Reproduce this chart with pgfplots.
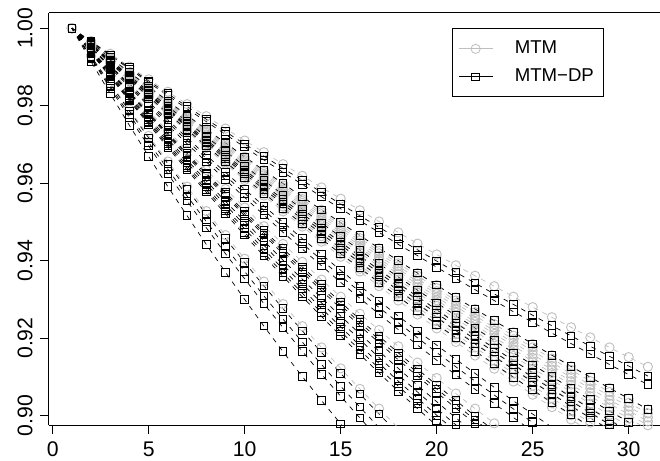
\documentclass[border=0pt]{standalone}
\usepackage{fontspec}
\setmainfont{Liberation Sans}
\usepackage{pgfplots}
\pgfplotsset{compat=1.18}
\definecolor{mtmgray}{HTML}{BEBEBE}
\pgfplotsset{
  mtm/.style={mtmgray, line width=0.35pt, dash pattern=on 2.4pt off 2.6pt,
    mark=o, mark size=2.3pt, mark options={solid, line width=0.45pt}},
  dp/.style={black, line width=0.35pt, dash pattern=on 2.4pt off 2.6pt,
    mark=square, mark size=1.9pt, mark options={solid, line width=0.45pt}},
}
\begin{document}
\fontsize{10.6}{12.7}\selectfont
\begin{tikzpicture}
\begin{axis}[
  width=305.5pt, height=206.3pt, scale only axis,
  xmin=-0.19, xmax=31.63, ymin=0.8975, ymax=1.004,
  axis x line*=box, axis y line*=left,
  xtick={0,5,...,30}, ytick={0.90,0.92,0.94,0.96,0.98,1.00},
  xtick pos=bottom, ytick pos=left,
  tick align=outside, major tick length=4.5pt,
  tick style={black, line width=0.5pt},
  axis line style={line width=0.5pt},
  scaled y ticks=false,
  /pgf/number format/assume math mode=true,
  yticklabel style={rotate=90, anchor=south,
    /pgf/number format/fixed, /pgf/number format/fixed zerofill,
    /pgf/number format/precision=2},
  legend style={at={(0.660,0.962)}, anchor=north west, draw=black,
    line width=0.5pt, font=\fontsize{9.3}{11}\selectfont,
    inner xsep=2.7pt, inner ysep=4pt, row sep=2pt, fill=white,
    /tikz/every odd column/.append style={column sep=8.85pt}},
  legend cell align=left,
]
\addlegendimage{mtmgray, line width=0.4pt, mark=o, mark size=2.3pt}
\addlegendentry{MTM}
\addlegendimage{black, line width=0.4pt, mark=square, mark size=1.9pt}
\addlegendentry{MTM−DP\hspace{2.8pt}}

% MTM
\addplot[mtm] coordinates {(1,1.0000) (2,0.9967) (3,0.9934) (4,0.9901) (5,0.9868) (6,0.9836) (7,0.9804) (8,0.9773) (9,0.9741) (10,0.9710) (11,0.9680) (12,0.9649) (13,0.9619) (14,0.9589) (15,0.9560) (16,0.9530) (17,0.9501) (18,0.9473) (19,0.9444) (20,0.9416) (21,0.9388) (22,0.9361) (23,0.9334) (24,0.9307) (25,0.9280) (26,0.9254) (27,0.9228) (28,0.9202) (29,0.9176) (30,0.9151) (31,0.9126)};
\addplot[mtm] coordinates {(1,1.0000) (2,0.9962) (3,0.9924) (4,0.9886) (5,0.9849) (6,0.9812) (7,0.9775) (8,0.9739) (9,0.9704) (10,0.9668) (11,0.9633) (12,0.9599) (13,0.9565) (14,0.9531) (15,0.9498) (16,0.9465) (17,0.9432) (18,0.9400) (19,0.9368) (20,0.9337) (21,0.9305) (22,0.9275) (23,0.9245) (24,0.9215) (25,0.9185) (26,0.9156) (27,0.9127) (28,0.9099) (29,0.9071) (30,0.9044) (31,0.9016)};
\addplot[mtm] coordinates {(1,1.0000) (2,0.9961) (3,0.9923) (4,0.9884) (5,0.9847) (6,0.9809) (7,0.9773) (8,0.9736) (9,0.9700) (10,0.9664) (11,0.9629) (12,0.9594) (13,0.9559) (14,0.9525) (15,0.9492) (16,0.9458) (17,0.9425) (18,0.9393) (19,0.9361) (20,0.9329) (21,0.9297) (22,0.9267) (23,0.9236) (24,0.9206) (25,0.9176) (26,0.9147) (27,0.9118) (28,0.9089) (29,0.9061) (30,0.9033) (31,0.9006)};
\addplot[mtm] coordinates {(1,1.0000) (2,0.9961) (3,0.9922) (4,0.9883) (5,0.9845) (6,0.9807) (7,0.9770) (8,0.9733) (9,0.9696) (10,0.9660) (11,0.9624) (12,0.9589) (13,0.9554) (14,0.9520) (15,0.9486) (16,0.9452) (17,0.9419) (18,0.9386) (19,0.9353) (20,0.9321) (21,0.9290) (22,0.9258) (23,0.9227) (24,0.9197) (25,0.9167) (26,0.9137) (27,0.9108) (28,0.9079) (29,0.9051) (30,0.9023) (31,0.8995)};
\addplot[mtm] coordinates {(1,1.0000) (2,0.9960) (3,0.9921) (4,0.9882) (5,0.9843) (6,0.9805) (7,0.9767) (8,0.9730) (9,0.9693) (10,0.9656) (11,0.9620) (12,0.9584) (13,0.9549) (14,0.9514) (15,0.9480) (16,0.9446) (17,0.9412) (18,0.9379) (19,0.9346) (20,0.9314) (21,0.9282) (22,0.9250) (23,0.9219) (24,0.9188) (25,0.9158) (26,0.9128) (27,0.9099) (28,0.9070) (29,0.9041) (30,0.9013) (31,0.8985)};
\addplot[mtm] coordinates {(1,1.0000) (2,0.9960) (3,0.9920) (4,0.9880) (5,0.9841) (6,0.9802) (7,0.9764) (8,0.9726) (9,0.9689) (10,0.9652) (11,0.9615) (12,0.9579) (13,0.9544) (14,0.9508) (15,0.9474) (16,0.9439) (17,0.9405) (18,0.9372) (19,0.9339) (20,0.9306) (21,0.9274) (22,0.9242) (23,0.9211) (24,0.9180) (25,0.9149) (26,0.9119) (27,0.9089) (28,0.9060) (29,0.9031) (30,0.9003) (31,0.8975)};
\addplot[mtm] coordinates {(1,1.0000) (2,0.9959) (3,0.9919) (4,0.9879) (5,0.9839) (6,0.9800) (7,0.9761) (8,0.9723) (9,0.9685) (10,0.9648) (11,0.9611) (12,0.9574) (13,0.9538) (14,0.9503) (15,0.9468) (16,0.9433) (17,0.9399) (18,0.9365) (19,0.9331) (20,0.9298) (21,0.9266) (22,0.9234) (23,0.9202) (24,0.9171) (25,0.9140) (26,0.9110) (27,0.9080) (28,0.9050) (29,0.9021) (30,0.8993) (31,0.8965)};
\addplot[mtm] coordinates {(1,1.0000) (2,0.9959) (3,0.9918) (4,0.9877) (5,0.9837) (6,0.9798) (7,0.9759) (8,0.9720) (9,0.9682) (10,0.9644) (11,0.9607) (12,0.9570) (13,0.9533) (14,0.9497) (15,0.9462) (16,0.9427) (17,0.9392) (18,0.9358) (19,0.9324) (20,0.9291) (21,0.9258) (22,0.9226) (23,0.9194) (24,0.9162) (25,0.9131) (26,0.9101) (27,0.9070) (28,0.9041) (29,0.9012) (30,0.8983) (31,0.8954)};
\addplot[mtm] coordinates {(1,1.0000) (2,0.9958) (3,0.9917) (4,0.9876) (5,0.9835) (6,0.9795) (7,0.9756) (8,0.9717) (9,0.9678) (10,0.9640) (11,0.9602) (12,0.9565) (13,0.9528) (14,0.9492) (15,0.9456) (16,0.9420) (17,0.9385) (18,0.9351) (19,0.9317) (20,0.9283) (21,0.9250) (22,0.9218) (23,0.9185) (24,0.9154) (25,0.9122) (26,0.9092) (27,0.9061) (28,0.9031) (29,0.9002) (30,0.8973)};
\addplot[mtm] coordinates {(1,1.0000) (2,0.9958) (3,0.9916) (4,0.9874) (5,0.9833) (6,0.9792) (7,0.9752) (8,0.9713) (9,0.9674) (10,0.9635) (11,0.9597) (12,0.9559) (13,0.9522) (14,0.9485) (15,0.9449) (16,0.9413) (17,0.9377) (18,0.9343) (19,0.9308) (20,0.9274) (21,0.9241) (22,0.9208) (23,0.9175) (24,0.9143) (25,0.9112) (26,0.9081) (27,0.9050) (28,0.9020) (29,0.8990) (30,0.8961)};
\addplot[mtm] coordinates {(1,1.0000) (2,0.9957) (3,0.9914) (4,0.9872) (5,0.9831) (6,0.9790) (7,0.9749) (8,0.9709) (9,0.9669) (10,0.9630) (11,0.9591) (12,0.9553) (13,0.9516) (14,0.9478) (15,0.9442) (16,0.9405) (17,0.9370) (18,0.9334) (19,0.9300) (20,0.9265) (21,0.9231) (22,0.9198) (23,0.9165) (24,0.9133) (25,0.9101) (26,0.9070) (27,0.9039) (28,0.9009) (29,0.8979) (30,0.8949)};
\addplot[mtm] coordinates {(1,1.0000) (2,0.9956) (3,0.9913) (4,0.9870) (5,0.9828) (6,0.9786) (7,0.9745) (8,0.9704) (9,0.9664) (10,0.9624) (11,0.9585) (12,0.9546) (13,0.9508) (14,0.9471) (15,0.9433) (16,0.9397) (17,0.9360) (18,0.9325) (19,0.9290) (20,0.9255) (21,0.9221) (22,0.9187) (23,0.9154) (24,0.9121) (25,0.9089) (26,0.9057) (27,0.9026) (28,0.8995) (29,0.8965)};
\addplot[mtm] coordinates {(1,1.0000) (2,0.9956) (3,0.9912) (4,0.9868) (5,0.9825) (6,0.9783) (7,0.9741) (8,0.9700) (9,0.9659) (10,0.9619) (11,0.9579) (12,0.9540) (13,0.9501) (14,0.9463) (15,0.9425) (16,0.9388) (17,0.9351) (18,0.9315) (19,0.9280) (20,0.9244) (21,0.9210) (22,0.9176) (23,0.9142) (24,0.9109) (25,0.9077) (26,0.9045) (27,0.9013) (28,0.8982) (29,0.8952)};
\addplot[mtm] coordinates {(1,1.0000) (2,0.9955) (3,0.9910) (4,0.9866) (5,0.9823) (6,0.9780) (7,0.9737) (8,0.9695) (9,0.9654) (10,0.9613) (11,0.9573) (12,0.9533) (13,0.9494) (14,0.9455) (15,0.9417) (16,0.9379) (17,0.9342) (18,0.9306) (19,0.9270) (20,0.9234) (21,0.9199) (22,0.9165) (23,0.9131) (24,0.9098) (25,0.9065) (26,0.9032) (27,0.9001) (28,0.8970)};
\addplot[mtm] coordinates {(1,1.0000) (2,0.9954) (3,0.9909) (4,0.9864) (5,0.9820) (6,0.9777) (7,0.9734) (8,0.9691) (9,0.9650) (10,0.9608) (11,0.9568) (12,0.9527) (13,0.9488) (14,0.9449) (15,0.9410) (16,0.9372) (17,0.9334) (18,0.9297) (19,0.9261) (20,0.9225) (21,0.9190) (22,0.9155) (23,0.9121) (24,0.9088) (25,0.9054) (26,0.9022) (27,0.8990) (28,0.8959)};
\addplot[mtm] coordinates {(1,1.0000) (2,0.9945) (3,0.9892) (4,0.9839) (5,0.9786) (6,0.9735) (7,0.9684) (8,0.9634) (9,0.9585) (10,0.9537) (11,0.9489) (12,0.9443) (13,0.9397) (14,0.9351) (15,0.9307) (16,0.9263) (17,0.9221) (18,0.9179) (19,0.9137) (20,0.9097) (21,0.9057) (22,0.9018) (23,0.8980) (24,0.8943)};
\addplot[mtm] coordinates {(1,1.0000) (2,0.9928) (3,0.9858) (4,0.9790) (5,0.9722) (6,0.9656) (7,0.9591) (8,0.9528) (9,0.9466) (10,0.9405) (11,0.9346) (12,0.9288) (13,0.9231) (14,0.9176) (15,0.9122) (16,0.9069) (17,0.9018) (18,0.8968)};

% MTM-DP
\addplot[dp] coordinates {(1,1.0000) (2,0.9966) (3,0.9931) (4,0.9898) (5,0.9864) (6,0.9831) (7,0.9798) (8,0.9765) (9,0.9733) (10,0.9701) (11,0.9670) (12,0.9638) (13,0.9607) (14,0.9577) (15,0.9546) (16,0.9516) (17,0.9486) (18,0.9457) (19,0.9428) (20,0.9399) (21,0.9370) (22,0.9342) (23,0.9314) (24,0.9287) (25,0.9259) (26,0.9232) (27,0.9206) (28,0.9179) (29,0.9153) (30,0.9128) (31,0.9102)};
\addplot[dp] coordinates {(1,1.0000) (2,0.9965) (3,0.9929) (4,0.9895) (5,0.9860) (6,0.9826) (7,0.9792) (8,0.9759) (9,0.9726) (10,0.9693) (11,0.9660) (12,0.9628) (13,0.9597) (14,0.9565) (15,0.9534) (16,0.9503) (17,0.9473) (18,0.9442) (19,0.9413) (20,0.9383) (21,0.9354) (22,0.9325) (23,0.9297) (24,0.9268) (25,0.9241) (26,0.9213) (27,0.9186) (28,0.9159) (29,0.9132) (30,0.9106) (31,0.9080)};
\addplot[dp] coordinates {(1,1.0000) (2,0.9962) (3,0.9924) (4,0.9886) (5,0.9849) (6,0.9812) (7,0.9775) (8,0.9739) (9,0.9704) (10,0.9668) (11,0.9633) (12,0.9599) (13,0.9565) (14,0.9531) (15,0.9498) (16,0.9465) (17,0.9432) (18,0.9400) (19,0.9368) (20,0.9337) (21,0.9305) (22,0.9275) (23,0.9245) (24,0.9215) (25,0.9185) (26,0.9156) (27,0.9127) (28,0.9099) (29,0.9071) (30,0.9044) (31,0.9016)};
\addplot[dp] coordinates {(1,1.0000) (2,0.9959) (3,0.9918) (4,0.9877) (5,0.9837) (6,0.9798) (7,0.9759) (8,0.9720) (9,0.9682) (10,0.9644) (11,0.9607) (12,0.9570) (13,0.9533) (14,0.9497) (15,0.9462) (16,0.9427) (17,0.9392) (18,0.9358) (19,0.9324) (20,0.9291) (21,0.9258) (22,0.9226) (23,0.9194) (24,0.9162) (25,0.9131) (26,0.9101) (27,0.9070) (28,0.9041) (29,0.9012) (30,0.8983) (31,0.8954)};
\addplot[dp] coordinates {(1,1.0000) (2,0.9957) (3,0.9915) (4,0.9874) (5,0.9833) (6,0.9792) (7,0.9752) (8,0.9712) (9,0.9673) (10,0.9634) (11,0.9596) (12,0.9558) (13,0.9521) (14,0.9484) (15,0.9447) (16,0.9412) (17,0.9376) (18,0.9341) (19,0.9307) (20,0.9273) (21,0.9239) (22,0.9206) (23,0.9174) (24,0.9142) (25,0.9110) (26,0.9079) (27,0.9048) (28,0.9018) (29,0.8988) (30,0.8959)};
\addplot[dp] coordinates {(1,1.0000) (2,0.9957) (3,0.9914) (4,0.9872) (5,0.9830) (6,0.9789) (7,0.9748) (8,0.9708) (9,0.9668) (10,0.9629) (11,0.9590) (12,0.9552) (13,0.9514) (14,0.9477) (15,0.9440) (16,0.9404) (17,0.9368) (18,0.9333) (19,0.9298) (20,0.9264) (21,0.9230) (22,0.9197) (23,0.9164) (24,0.9131) (25,0.9099) (26,0.9068) (27,0.9037) (28,0.9007) (29,0.8977) (30,0.8947)};
\addplot[dp] coordinates {(1,1.0000) (2,0.9956) (3,0.9913) (4,0.9870) (5,0.9828) (6,0.9786) (7,0.9745) (8,0.9704) (9,0.9663) (10,0.9624) (11,0.9584) (12,0.9546) (13,0.9507) (14,0.9469) (15,0.9432) (16,0.9395) (17,0.9359) (18,0.9323) (19,0.9288) (20,0.9253) (21,0.9219) (22,0.9185) (23,0.9152) (24,0.9119) (25,0.9087) (26,0.9056) (27,0.9024) (28,0.8994) (29,0.8963)};
\addplot[dp] coordinates {(1,1.0000) (2,0.9955) (3,0.9910) (4,0.9867) (5,0.9823) (6,0.9780) (7,0.9738) (8,0.9696) (9,0.9655) (10,0.9614) (11,0.9574) (12,0.9534) (13,0.9495) (14,0.9456) (15,0.9418) (16,0.9381) (17,0.9344) (18,0.9307) (19,0.9271) (20,0.9236) (21,0.9201) (22,0.9166) (23,0.9133) (24,0.9099) (25,0.9066) (26,0.9034) (27,0.9003) (28,0.8971)};
\addplot[dp] coordinates {(1,1.0000) (2,0.9951) (3,0.9903) (4,0.9856) (5,0.9809) (6,0.9763) (7,0.9717) (8,0.9672) (9,0.9628) (10,0.9584) (11,0.9541) (12,0.9499) (13,0.9457) (14,0.9416) (15,0.9375) (16,0.9335) (17,0.9296) (18,0.9257) (19,0.9219) (20,0.9182) (21,0.9145) (22,0.9109) (23,0.9073) (24,0.9038) (25,0.9004) (26,0.8970)};
\addplot[dp] coordinates {(1,1.0000) (2,0.9950) (3,0.9901) (4,0.9852) (5,0.9804) (6,0.9757) (7,0.9710) (8,0.9664) (9,0.9619) (10,0.9574) (11,0.9530) (12,0.9487) (13,0.9444) (14,0.9402) (15,0.9360) (16,0.9320) (17,0.9279) (18,0.9240) (19,0.9201) (20,0.9163) (21,0.9126) (22,0.9089) (23,0.9053) (24,0.9017) (25,0.8982) (26,0.8948)};
\addplot[dp] coordinates {(1,1.0000) (2,0.9949) (3,0.9898) (4,0.9848) (5,0.9799) (6,0.9750) (7,0.9702) (8,0.9655) (9,0.9609) (10,0.9563) (11,0.9518) (12,0.9473) (13,0.9430) (14,0.9387) (15,0.9344) (16,0.9303) (17,0.9262) (18,0.9222) (19,0.9182) (20,0.9143) (21,0.9105) (22,0.9068) (23,0.9031) (24,0.8995) (25,0.8959)};
\addplot[dp] coordinates {(1,1.0000) (2,0.9944) (3,0.9889) (4,0.9835) (5,0.9781) (6,0.9729) (7,0.9677) (8,0.9626) (9,0.9576) (10,0.9527) (11,0.9478) (12,0.9431) (13,0.9384) (14,0.9338) (15,0.9293) (16,0.9248) (17,0.9205) (18,0.9162) (19,0.9120) (20,0.9079) (21,0.9039) (22,0.8999) (23,0.8961)};
\addplot[dp] coordinates {(1,1.0000) (2,0.9943) (3,0.9888) (4,0.9833) (5,0.9779) (6,0.9726) (7,0.9673) (8,0.9622) (9,0.9571) (10,0.9521) (11,0.9472) (12,0.9424) (13,0.9377) (14,0.9330) (15,0.9285) (16,0.9240) (17,0.9196) (18,0.9153) (19,0.9111) (20,0.9069) (21,0.9029) (22,0.8989) (23,0.8950)};
\addplot[dp] coordinates {(1,1.0000) (2,0.9943) (3,0.9886) (4,0.9831) (5,0.9776) (6,0.9722) (7,0.9669) (8,0.9617) (9,0.9566) (10,0.9516) (11,0.9466) (12,0.9418) (13,0.9370) (14,0.9323) (15,0.9277) (16,0.9232) (17,0.9188) (18,0.9144) (19,0.9102) (20,0.9060) (21,0.9019) (22,0.8979) (23,0.8940)};
\addplot[dp] coordinates {(1,1.0000) (2,0.9941) (3,0.9883) (4,0.9826) (5,0.9769) (6,0.9714) (7,0.9660) (8,0.9606) (9,0.9553) (10,0.9502) (11,0.9451) (12,0.9401) (13,0.9352) (14,0.9304) (15,0.9257) (16,0.9211) (17,0.9166) (18,0.9122) (19,0.9078) (20,0.9036) (21,0.8994) (22,0.8953)};
\addplot[dp] coordinates {(1,1.0000) (2,0.9940) (3,0.9880) (4,0.9822) (5,0.9764) (6,0.9708) (7,0.9653) (8,0.9598) (9,0.9544) (10,0.9492) (11,0.9440) (12,0.9389) (13,0.9340) (14,0.9291) (15,0.9243) (16,0.9196) (17,0.9150) (18,0.9105) (19,0.9061) (20,0.9018) (21,0.8976) (22,0.8935)};
\addplot[dp] coordinates {(1,1.0000) (2,0.9938) (3,0.9878) (4,0.9818) (5,0.9760) (6,0.9702) (7,0.9645) (8,0.9590) (9,0.9535) (10,0.9482) (11,0.9429) (12,0.9378) (13,0.9327) (14,0.9277) (15,0.9229) (16,0.9181) (17,0.9135) (18,0.9089) (19,0.9045) (20,0.9001) (21,0.8959)};
\addplot[dp] coordinates {(1,1.0000) (2,0.9937) (3,0.9876) (4,0.9815) (5,0.9756) (6,0.9697) (7,0.9639) (8,0.9583) (9,0.9528) (10,0.9473) (11,0.9420) (12,0.9368) (13,0.9316) (14,0.9266) (15,0.9217) (16,0.9169) (17,0.9122) (18,0.9076) (19,0.9031) (20,0.8987) (21,0.8944)};
\addplot[dp] coordinates {(1,1.0000) (2,0.9936) (3,0.9874) (4,0.9812) (5,0.9752) (6,0.9692) (7,0.9634) (8,0.9577) (9,0.9521) (10,0.9466) (11,0.9412) (12,0.9359) (13,0.9307) (14,0.9256) (15,0.9206) (16,0.9158) (17,0.9110) (18,0.9063) (19,0.9018) (20,0.8974)};
\addplot[dp] coordinates {(1,1.0000) (2,0.9927) (3,0.9856) (4,0.9786) (5,0.9717) (6,0.9650) (7,0.9584) (8,0.9520) (9,0.9457) (10,0.9395) (11,0.9335) (12,0.9276) (13,0.9219) (14,0.9163) (15,0.9109) (16,0.9056) (17,0.9004) (18,0.8953)};
\addplot[dp] coordinates {(1,1.0000) (2,0.9924) (3,0.9850) (4,0.9777) (5,0.9705) (6,0.9636) (7,0.9567) (8,0.9501) (9,0.9435) (10,0.9372) (11,0.9309) (12,0.9249) (13,0.9190) (14,0.9132) (15,0.9076) (16,0.9022) (17,0.8969)};
\addplot[dp] coordinates {(1,1.0000) (2,0.9922) (3,0.9845) (4,0.9769) (5,0.9696) (6,0.9624) (7,0.9554) (8,0.9485) (9,0.9418) (10,0.9353) (11,0.9289) (12,0.9227) (13,0.9166) (14,0.9107) (15,0.9050) (16,0.8994) (17,0.8940)};
\addplot[dp] coordinates {(1,1.0000) (2,0.9914) (3,0.9831) (4,0.9749) (5,0.9669) (6,0.9591) (7,0.9516) (8,0.9442) (9,0.9370) (10,0.9300) (11,0.9231) (12,0.9165) (13,0.9101) (14,0.9039) (15,0.8979) (16,0.8920)};
\end{axis}
\pgfresetboundingbox
\path[use as bounding box] ([shift={(-24.5pt,-17.85pt)}]current axis.south west) rectangle ([shift={(0pt,6.35pt)}]current axis.north east);
\end{tikzpicture}
\end{document}
